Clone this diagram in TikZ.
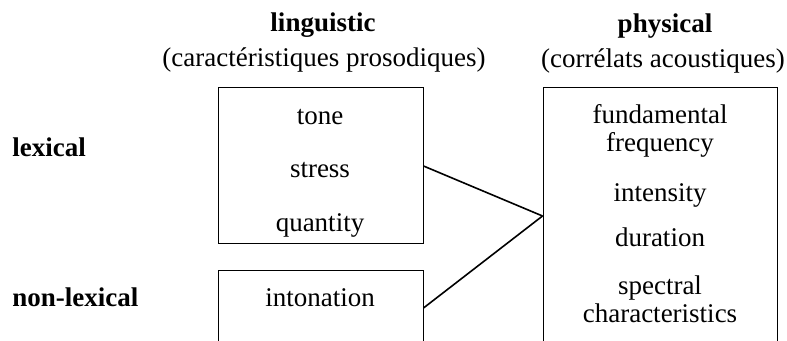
\documentclass[tikz,border=0pt]{standalone}
\usepackage{fontspec}
\setmainfont{Liberation Serif}

\begin{document}
\begin{tikzpicture}[x=0.5pt,y=-0.5pt,
    txt/.style={anchor=base, inner sep=0pt, font=\fontsize{13.5pt}{14pt}\selectfont},
    bold/.style={txt, font=\fontsize{13.5pt}{14pt}\selectfont\bfseries},
    box/.style={draw, line width=0.5pt, inner sep=0pt},
    link/.style={line width=0.8pt}]
                \useasboundingbox (0,0) rectangle (787,341);

                \node[bold] (linghead) at (323,32) {linguistic};
                \node[txt] (lingsub) at (324,67) {(caractéristiques prosodiques)};
                \node[bold] (physhead) at (665,33) {physical};
                \node[txt] (physsub) at (663,68) {(corrélats acoustiques)};

                \node[bold, anchor=base west] (lex) at (12,157) {lexical};
                \node[bold, anchor=base west] (nonlex) at (12,307) {non-lexical};

                \node[box, minimum width=102.5pt, minimum height=78pt] (lexbox) at (320.5,166) {};
                \node[txt] (tone) at (320,125) {tone};
                \node[txt] (stress) at (320,178) {stress};
                \node[txt] (quantity) at (320,232) {quantity};

                \node[box, minimum width=102.5pt, minimum height=37pt] (intobox) at (320.5,308) {};
                \node[txt] (intonation) at (320,307) {intonation};

                \node[box, minimum width=117pt, minimum height=128pt] (physbox) at (660,216) {};
                \node[txt] (fund) at (660,124) {fundamental};
                \node[txt] (freq) at (660,152) {frequency};
                \node[txt] (inten) at (660,202) {intensity};
                \node[txt] (dur) at (660,247) {duration};
                \node[txt] (spec) at (660,295) {spectral};
                \node[txt] (charac) at (660,323) {characteristics};

                \draw[link] (lexbox.east) -- (physbox.west);
                \draw[link] (intobox.east) -- (physbox.west);
            \end{tikzpicture}
\end{document}
